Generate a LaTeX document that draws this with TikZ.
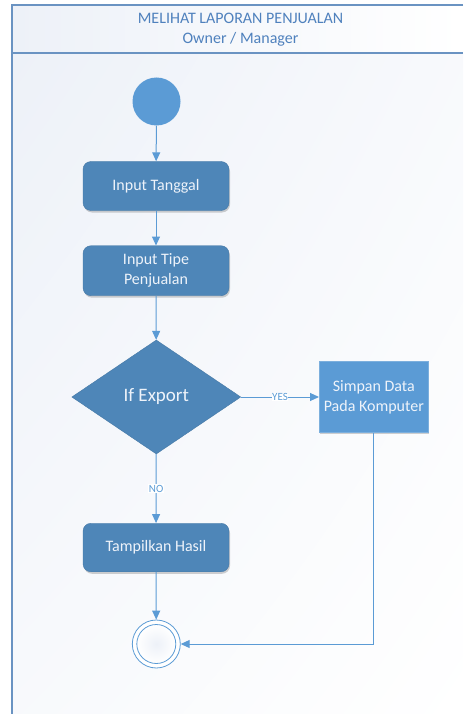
\documentclass[tikz,border=0pt]{standalone}
\usepackage{fontspec}
\setmainfont{Carlito}
\usetikzlibrary{shapes.geometric,arrows.meta,shadows,shadings}
\definecolor{boxblue}{HTML}{4E86B8}
\definecolor{lightblue}{HTML}{5B9BD5}
\definecolor{linec}{HTML}{5B9BD5}
\definecolor{framec}{HTML}{6A93C2}
\definecolor{titlec}{HTML}{4F81BD}
\definecolor{bgc}{HTML}{EDF1F8}
\definecolor{txtw}{HTML}{EEF3FA}
\tikzset{
  act/.style={rectangle, rounded corners=8pt, fill=boxblue, draw=boxblue!90!black, line width=0.4pt,
    minimum width=146pt, minimum height=49pt, text=txtw, font=\fontsize{16}{20}\selectfont, align=center,
    drop shadow={shadow xshift=1pt, shadow yshift=-2pt, opacity=0.18, fill=black}},
  flow/.style={draw=linec, line width=1pt, -{Triangle[length=9pt,width=8pt]}},
  lbl/.style={fill=white, inner sep=0.5pt, text=linec, font=\fontsize{11}{12}\selectfont}
}
\begin{document}
\begin{tikzpicture}[x=1pt,y=-1pt]
\useasboundingbox (0,0) rectangle (463,714);
\fill[white] (0,0) rectangle (463,714);
% header
\shade[left color=bgc, right color=white] (12,5) rectangle (463,53);
% body
\shade[upper left=bgc, upper right=white!60!bgc, lower left=white!60!bgc, lower right=white] (12,53) rectangle (463,714);
\draw[framec, line width=1.2pt] (463,5) -- (12,5) -- (12,714);
\draw[framec, line width=1.2pt] (12,53) -- (463,53);
\node[text=titlec, font=\fontsize{16}{20}\selectfont, align=center] (title) at (240.5,30) {MELIHAT LAPORAN PENJUALAN\\Owner / Manager};

\node[circle, fill=lightblue, minimum size=48pt, inner sep=0pt] (start) at (156.5,101.5) {};
\node[act] (tanggal) at (156,186) {Input Tanggal};
\node[act, minimum height=50pt] (tipe) at (156,270.7) {Input Tipe\\Penjualan};
\node[diamond, fill=boxblue, draw=boxblue!90!black, line width=0.4pt, minimum width=169pt, minimum height=114pt, aspect=1.48, inner sep=0pt,
  text=txtw, font=\fontsize{19}{22}\selectfont] (export) at (156.3,397) {If Export};
\node[rectangle, fill=lightblue, draw=lightblue!80!white, line width=0.6pt, minimum width=109pt, minimum height=71.5pt,
  text=txtw, font=\fontsize{16}{20}\selectfont, align=center,
  drop shadow={shadow xshift=1pt, shadow yshift=-1.5pt, opacity=0.18, fill=black}] (simpan) at (373.8,397) {Simpan Data\\Pada Komputer};
\node[act, minimum height=48.5pt] (hasil) at (156,547.5) {Tampilkan Hasil};
\node[circle, draw=linec, line width=0.8pt, minimum size=48pt, inner sep=0pt, fill=white] (end) at (156.3,644) {};
\node[circle, draw=linec, line width=0.8pt, minimum size=39pt, inner sep=0pt, inner color=bgc, outer color=white] (endin) at (156.3,644) {};

\draw[flow] (start) -- (tanggal);
\draw[flow] (tanggal) -- (tipe);
\draw[flow] (tipe) -- (export);
\draw[flow] (export) -- node[lbl] {YES} (simpan);
\draw[flow] (export) -- node[lbl, pos=0.5] {NO} (hasil);
\draw[flow] (hasil) -- (end);
\draw[flow] (simpan.south) |- (end.east);
\end{tikzpicture}
\end{document}
